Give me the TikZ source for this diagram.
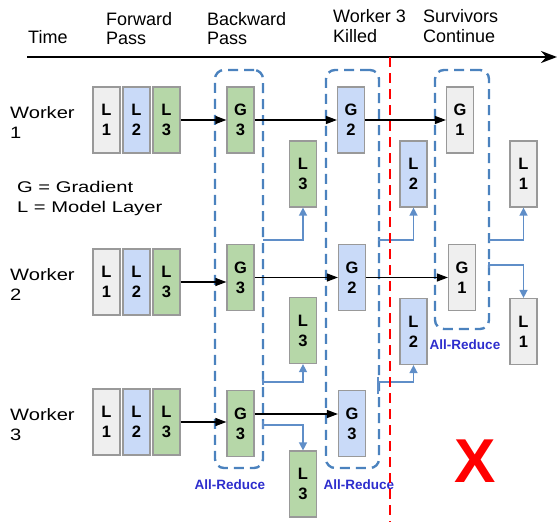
\documentclass[tikz,border=0pt]{standalone}
\usepackage{fontspec}
\setmainfont{Liberation Sans}
\newfontfamily\wkfont{Liberation Sans}[FakeStretch=1.22]
\newfontfamily\lgfont{Liberation Sans}[FakeStretch=1.3]
\usetikzlibrary{arrows.meta}
\definecolor{lgray}{HTML}{EFEFEF}
\definecolor{lblue}{HTML}{C9DAF8}
\definecolor{lgreen}{HTML}{B6D7A8}
\definecolor{boxline}{HTML}{999999}
\definecolor{redu}{RGB}{75,130,190}
\definecolor{updl}{RGB}{95,142,200}
\definecolor{artext}{RGB}{45,45,205}

\begin{document}
\begin{tikzpicture}[x=1pt,y=-1pt,
  lay/.style={draw=boxline,line width=1.2pt,minimum width=27pt,minimum height=66pt,
    inner sep=0pt,align=center,font=\fontsize{16.5}{20}\selectfont\bfseries},
  head/.style={anchor=base west,inner sep=0pt,align=left,font=\fontsize{18}{20}\selectfont},
  wlab/.style={anchor=base west,inner sep=0pt,align=left,font=\fontsize{16.5}{20}\wkfont},
  arbox/.style={draw=redu,line width=2.4pt,dash pattern=on 10pt off 6pt,rounded corners=9pt,inner sep=0pt},
  artxt/.style={inner sep=0pt,text=artext,font=\fontsize{13.5}{14}\selectfont\bfseries},
  fwd/.style={line width=1.3pt,-{Triangle[length=11pt,width=8pt]}},
  upd/.style={draw=updl,line width=1.4pt,-{Triangle[length=8pt,width=8pt]}}]
\useasboundingbox (0,0) rectangle (558,522);

% time line and header
\coordinate (t0) at (27,57);
\coordinate (t1) at (557,57);
\draw[line width=2.4pt,-{Stealth[length=16pt,width=12pt]}] (t0) -- (t1);
\node (time) at (28,43) [head] {Time};
\node (fp) at (106,45) [head] {Forward\\Pass};
\node (bp) at (207,45) [head] {Backward\\Pass};
\node (kl) at (333,42) [head] {Worker 3\\Killed};
\node (sv) at (423,42) [head] {Survivors\\Continue};

% workers
\node (wk1) at (10,138) [wlab] {Worker\\1};
\node (wk2) at (10,300) [wlab] {Worker\\2};
\node (wk3) at (10,440) [wlab] {Worker\\3};
\node (leg) at (17,212) [anchor=base west,inner sep=0pt,align=left,font=\fontsize{15.5}{20}\lgfont]
  {G = Gradient\\L = Model Layer};

% all-reduce groups
\node (ar1) at (239,269) [arbox,minimum width=48pt,minimum height=398pt] {};
\node (ar2) at (352.5,269) [arbox,minimum width=53pt,minimum height=398pt] {};
\node (ar3) at (462,199.5) [arbox,minimum width=54pt,minimum height=259pt] {};
\node (al1) at (230,485) [artxt] {All-Reduce};
\node (al2) at (359,485) [artxt] {All-Reduce};
\node (al3) at (465,345) [artxt] {All-Reduce};

% forward pass
\node (w1l1) at (106.5,120) [lay,fill=lgray] {L\\1};
\node (w1l2) at (136.5,120) [lay,fill=lblue] {L\\2};
\node (w1l3) at (166.5,120) [lay,fill=lgreen] {L\\3};
\node (w2l1) at (106.5,282) [lay,fill=lgray] {L\\1};
\node (w2l2) at (136.5,282) [lay,fill=lblue] {L\\2};
\node (w2l3) at (166.5,282) [lay,fill=lgreen] {L\\3};
\node (w3l1) at (106.5,422) [lay,fill=lgray] {L\\1};
\node (w3l2) at (136.5,422) [lay,fill=lblue] {L\\2};
\node (w3l3) at (166.5,422) [lay,fill=lgreen] {L\\3};

% gradients
\node (w1g3) at (240.5,120) [lay,fill=lgreen] {G\\3};
\node (w2g3) at (240.5,277.5) [lay,fill=lgreen] {G\\3};
\node (w3g3) at (240.5,423.5) [lay,fill=lgreen] {G\\3};
\node (w1g2) at (351,120) [lay,fill=lblue] {G\\2};
\node (w2g2) at (352,277.5) [lay,fill=lblue] {G\\2};
\node (w3g3b) at (352,423.5) [lay,fill=lblue] {G\\3};
\node (w1g1) at (460,120) [lay,fill=lgray] {G\\1};
\node (w2g1) at (462,277.5) [lay,fill=lgray] {G\\1};

% updated layers
\node (u1) at (303,174) [lay,fill=lgreen] {L\\3};
\node (u2) at (303,330.5) [lay,fill=lgreen] {L\\3};
\node (u3) at (303,484) [lay,fill=lgreen] {L\\3};
\node (v1) at (413.5,174) [lay,fill=lblue] {L\\2};
\node (v2) at (413.5,331.5) [lay,fill=lblue] {L\\2};
\node (s1) at (523.5,174) [lay,fill=lgray] {L\\1};
\node (s2) at (523.5,331.5) [lay,fill=lgray] {L\\1};

\draw[fwd] (w1l3) -- (w1l3 -| w1g3.west);
\draw[fwd] (w2l3) -- (w2l3 -| w2g3.west);
\draw[fwd] (w3l3) -- (w3l3 -| w3g3.west);
\draw[fwd] (w1g3) -- (w1g3 -| w1g2.west);
\draw[fwd] (w2g3) -- (w2g3 -| w2g2.west);
\draw[fwd] ([yshift=9.5pt]w3g3.east) -- ([yshift=9.5pt]w3g3b.west);
\draw[fwd] (w1g2) -- (w1g2 -| w1g1.west);
\draw[fwd] (w2g2) -- (w2g2 -| w2g1.west);

% all-reduce results
\coordinate (c1) at (263,240);
\coordinate (c2) at (263,382);
\coordinate (c3) at (263,425);
\coordinate (c4) at (378,240);
\coordinate (c5) at (378,382);
\coordinate (c6) at (489,240);
\coordinate (c7) at (489,265);
\draw[upd] (c1) -| (u1.south);
\draw[upd] (c2) -| (u2.south);
\draw[upd] (c3) -| (u3.north);
\draw[upd] (c4) -| (v1.south);
\draw[upd] (c5) -| (v2.south);
\draw[upd] (c6) -| (s1.south);
\draw[upd] (c7) -| (s2.north);
\draw[updl,line width=1.4pt] ([yshift=3pt]c2) -- ([yshift=-3pt]c2)
  ([yshift=4pt]c3) -- ([yshift=-4pt]c3)
  ([yshift=5pt]c5) -- ([yshift=-12pt]c5)
  ([yshift=3pt]c7) -- ([yshift=-3pt]c7);

% worker 3 killed
\coordinate (k0) at (390,57);
\coordinate (k1) at (390,522);
\draw[red,line width=2.8pt,dash pattern=on 10pt off 6pt] (k0) -- (k1);
\node (xx) at (475,461) [inner sep=0pt,text=red,font=\fontsize{62}{62}\selectfont\bfseries] {X};
\end{tikzpicture}
\end{document}
